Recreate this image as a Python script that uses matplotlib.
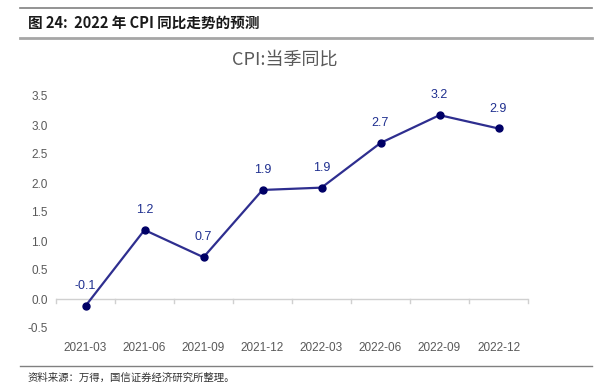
import matplotlib
matplotlib.use("Agg")
import matplotlib.pyplot as plt
from matplotlib.lines import Line2D

plt.rcParams['font.family'] = ['Noto Sans CJK SC', 'DejaVu Sans']

quarters = ["2021-03", "2021-06", "2021-09", "2021-12", "2022-03", "2022-06", "2022-09", "2022-12"]
cpi_yoy = [-0.12, 1.19, 0.72, 1.88, 1.92, 2.69, 3.17, 2.94]
labels = ["-0.1", "1.2", "0.7", "1.9", "1.9", "2.7", "3.2", "2.9"]
yticks = [-0.5, 0.0, 0.5, 1.0, 1.5, 2.0, 2.5, 3.0, 3.5]

W, H = 597, 387
fig = plt.figure(figsize=(W / 100, H / 100), dpi=100)

def fx(px):
    return px / W

def fy(py):
    return 1 - py / H

# header / footer rules
fig.add_artist(Line2D([fx(20), fx(592)], [fy(8), fy(8)], color="#808080", lw=1.2))
fig.add_artist(Line2D([fx(20), fx(592)], [fy(38), fy(38)], color="#a6a6a6", lw=2.0))
fig.add_artist(Line2D([fx(20), fx(592)], [fy(366), fy(366)], color="#808080", lw=1.0))

fig.text(fx(28), fy(23), "图 24:  2022 年 CPI 同比走势的预测", fontsize=10.5, fontweight="bold",
         color="#1a1a1a", va="center", ha="left")
fig.text(fx(28), fy(378), "资料来源：万得，国信证券经济研究所整理。", fontsize=7.5,
         color="#333333", va="center", ha="left")
fig.text(fx(285), fy(60), "CPI:当季同比", fontsize=13, color="#595959", va="center", ha="center")

ax = fig.add_axes([fx(56), fy(328), fx(528) - fx(56), fy(96) - fy(328)])
x = list(range(len(quarters)))
ax.plot(x, cpi_yoy, color="#2e2e8f", lw=1.6, marker="o", markersize=5,
        markerfacecolor="#000066", markeredgecolor="#000066", zorder=3, clip_on=False)
for xi, v, lab in zip(x, cpi_yoy, labels):
    ax.annotate(lab, (xi, v), xytext=(0, 10), textcoords="offset points", ha="center",
                va="bottom", fontsize=9, color="#1f2f8f", family=["Liberation Sans", "DejaVu Sans"])

ax.set_xlim(-0.5, len(quarters) - 0.5)
ax.set_ylim(-0.5, 3.5)
for s in ax.spines.values():
    s.set_visible(False)
ax.axhline(0, color="#d0d0d0", lw=1.0, zorder=1)
for b in range(len(quarters) + 1):
    ax.plot([b - 0.5, b - 0.5], [0, -0.07], color="#d0d0d0", lw=1.0, zorder=1, clip_on=False)

ax.set_yticks(yticks)
ax.set_yticklabels([f"{t:.1f}" for t in yticks], family=["Liberation Sans", "DejaVu Sans"])
ax.set_xticks(x)
ax.set_xticklabels(quarters, family=["Liberation Sans", "DejaVu Sans"])
ax.tick_params(axis="both", length=0, labelsize=8.5, colors="#595959")
ax.tick_params(axis="y", pad=6)
ax.tick_params(axis="x", pad=10)

fig.savefig("out.png", dpi=100)
